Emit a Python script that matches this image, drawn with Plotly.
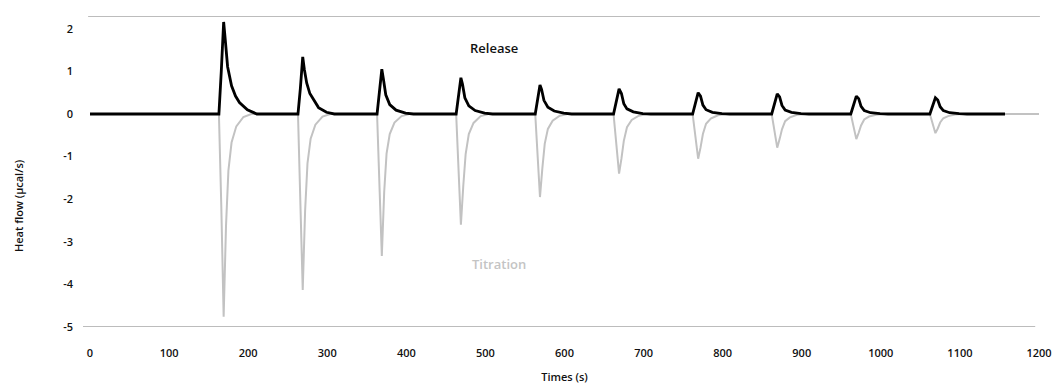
import plotly.graph_objects as go

# ---- data ----
release_time = [
    0, 40, 80, 120,
    163, 166, 169, 171, 174, 179, 184, 189, 199, 211,
    263, 266, 269, 271, 274, 278, 282, 289, 299, 309,
    363, 366, 369, 371, 374, 379, 387, 399, 409,
    463, 466, 469, 471, 474, 479, 487, 499, 509,
    563, 566, 569, 571, 574, 579, 587, 599, 609,
    662, 665, 669, 672, 675, 679, 687, 699, 709,
    762, 765, 769, 772, 775, 779, 787, 799, 809,
    862, 865, 869, 872, 875, 879, 887, 899, 909,
    962, 965, 969, 972, 975, 979, 987, 999, 1009,
    1062, 1065, 1069, 1072, 1075, 1079, 1087, 1099, 1109,
    1157,
]
release_value = [
    0, 0, 0, 0,
    0, 1.00, 2.16, 1.75, 1.11, 0.66, 0.42, 0.27, 0.10, 0,
    0, 0.60, 1.34, 1.05, 0.73, 0.48, 0.35, 0.15, 0.04, 0,
    0, 0.50, 1.05, 0.82, 0.45, 0.22, 0.09, 0.02, 0,
    0, 0.40, 0.85, 0.70, 0.38, 0.19, 0.08, 0.02, 0,
    0, 0.32, 0.68, 0.58, 0.32, 0.16, 0.07, 0.02, 0,
    0, 0.27, 0.59, 0.48, 0.24, 0.12, 0.05, 0.01, 0,
    0, 0.23, 0.50, 0.42, 0.21, 0.10, 0.04, 0.01, 0,
    0, 0.22, 0.47, 0.40, 0.20, 0.09, 0.04, 0.01, 0,
    0, 0.19, 0.42, 0.36, 0.18, 0.08, 0.03, 0.01, 0,
    0, 0.17, 0.38, 0.33, 0.17, 0.08, 0.03, 0.01, 0,
    0,
]

titration_time = [
    0,
    163, 166, 169, 172, 175, 179, 185, 194, 204,
    263, 266, 269, 272, 275, 279, 285, 294, 304,
    363, 366, 369, 372, 375, 379, 385, 394, 404,
    463, 466, 469, 472, 475, 479, 485, 494, 504,
    563, 566, 569, 572, 575, 579, 585, 594, 604,
    662, 665, 669, 672, 675, 679, 685, 694, 704,
    762, 765, 769, 772, 775, 779, 785, 794, 804,
    862, 865, 869, 872, 875, 879, 885, 894, 904,
    962, 965, 969, 972, 975, 979, 985, 994, 1004,
    1062, 1065, 1069, 1072, 1075, 1079, 1085, 1094, 1104,
    1200,
]
titration_value = [
    0,
    0, -2.14, -4.76, -2.62, -1.33, -0.67, -0.29, -0.07, 0,
    0, -1.86, -4.13, -2.27, -1.16, -0.58, -0.25, -0.06, 0,
    0, -1.50, -3.33, -1.83, -0.93, -0.47, -0.20, -0.05, 0,
    0, -1.17, -2.60, -1.69, -0.94, -0.47, -0.21, -0.05, 0,
    0, -0.88, -1.95, -1.27, -0.70, -0.35, -0.16, -0.04, 0,
    0, -0.63, -1.40, -1.05, -0.63, -0.31, -0.14, -0.04, 0,
    0, -0.47, -1.05, -0.79, -0.47, -0.23, -0.11, -0.03, 0,
    0, -0.36, -0.79, -0.59, -0.36, -0.17, -0.08, -0.02, 0,
    0, -0.27, -0.59, -0.44, -0.27, -0.13, -0.06, -0.02, 0,
    0, -0.20, -0.45, -0.34, -0.20, -0.10, -0.05, -0.01, 0,
    0,
]

x_ticks = [0, 100, 200, 300, 400, 500, 600, 700, 800, 900, 1000, 1100, 1200]
y_ticks = [2, 1, 0, -1, -2, -3, -4, -5]
y_tick_labels = ["2", "1", "0", "-1", "-2", "-3", "-4", "-5"]

FONT = "Open Sans"

fig = go.Figure()
fig.add_trace(go.Scatter(
    x=titration_time, y=titration_value, mode="lines", name="Titration",
    line=dict(color="#c2c2c2", width=2), showlegend=False,
))
fig.add_trace(go.Scatter(
    x=release_time, y=release_value, mode="lines", name="Release",
    line=dict(color="#000000", width=2.8), showlegend=False,
))

# frame lines (top border and bottom axis line)
fig.add_shape(type="line", xref="paper", yref="y", x0=-0.002, x1=1.001, y0=2.3, y1=2.3,
              line=dict(color="#a6a6a6", width=1.5))
fig.add_shape(type="line", xref="paper", yref="y", x0=-0.0074, x1=0.996, y0=-5, y1=-5,
              line=dict(color="#a6a6a6", width=1.5))

fig.add_annotation(x=0.4257, xref="paper", y=1.55, yref="y", text="Release", showarrow=False,
                   xanchor="center", yanchor="middle",
                   font=dict(family=FONT, size=13, color="#111111", weight=600))
fig.add_annotation(x=0.431, xref="paper", y=-3.53, yref="y", text="Titration", showarrow=False,
                   xanchor="center", yanchor="middle",
                   font=dict(family=FONT, size=13, color="#c4c4c4", weight=600))
fig.add_annotation(x=-0.0759, xref="paper", y=0.392, yref="paper", text="Heat flow (µcal/s)",
                   showarrow=False, textangle=-90, xanchor="center", yanchor="middle",
                   font=dict(family=FONT, size=11, color="#111111", weight=600))

fig.update_layout(
    width=1056, height=387,
    margin=dict(l=90, r=17, t=16, b=60, autoexpand=False),
    paper_bgcolor="white", plot_bgcolor="white",
    font=dict(family=FONT, size=11, color="#111111", weight=600),
    xaxis=dict(
        range=[0, 1200], tickvals=x_ticks, showgrid=False, zeroline=False, showline=False,
        ticks="", ticklabelstandoff=18, automargin=False,
        title=dict(text="Times (s)", standoff=14, font=dict(family=FONT, size=11, weight=600)),
    ),
    yaxis=dict(
        range=[-5, 2.3], tickvals=y_ticks, ticktext=y_tick_labels, showgrid=False,
        zeroline=False, showline=False, ticks="", ticklabelstandoff=16, automargin=False,
    ),
)

fig.write_html(
    "out.html",
    config={"displayModeBar": False},
    post_script="document.body.style.margin='0';document.body.style.padding='0';"
                "document.documentElement.style.overflow='hidden';",
)
